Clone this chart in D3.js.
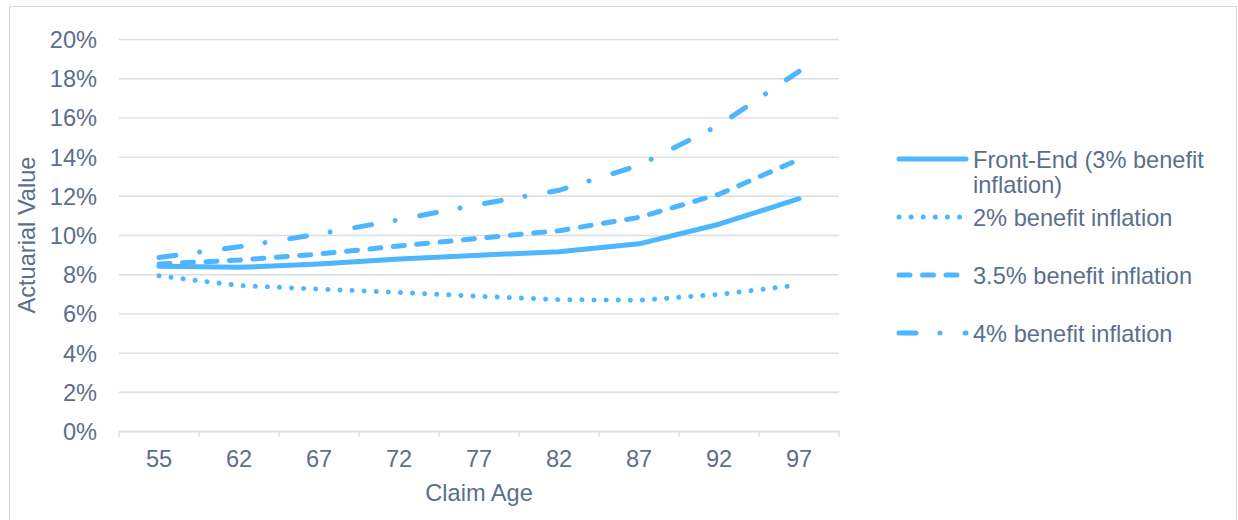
<!DOCTYPE html>
<html>
<head>
<meta charset="utf-8">
<script src="https://cdn.jsdelivr.net/npm/d3@7"></script>
<style>
  html, body { margin: 0; padding: 0; background: #ffffff; }
  svg { display: block; }
  text { font-family: "Liberation Sans", Arial, sans-serif; fill: #5B6F8C; }
</style>
</head>
<body>
<svg id="chart" width="1238" height="520"></svg>
<script>
// Claim ages on the category axis
const ages = ["55", "62", "67", "72", "77", "82", "87", "92", "97"];

// Actuarial value (%) by claim age for each benefit-inflation assumption
const frontEnd = [8.4, 8.35, 8.52, 8.77, 8.97, 9.15, 9.55, 10.55, 11.85];
const inflation2 = [7.92, 7.42, 7.24, 7.07, 6.87, 6.7, 6.67, 6.97, 7.45];
const inflation35 = [8.52, 8.72, 9.03, 9.44, 9.83, 10.22, 10.9, 12.08, 13.85];
const inflation4 = [8.85, 9.4, 10.05, 10.78, 11.56, 12.28, 13.55, 15.6, 18.35];

// Axis ticks (%)
const yTicks = [0, 2, 4, 6, 8, 10, 12, 14, 16, 18, 20];

const seriesNames = [
  ["Front-End (3% benefit", "inflation)"],
  ["2% benefit inflation"],
  ["3.5% benefit inflation"],
  ["4% benefit inflation"]
];

const series = [
  { name: seriesNames[0], values: frontEnd, dash: null },
  { name: seriesNames[1], values: inflation2, dash: "0.01 12.1" },
  { name: seriesNames[2], values: inflation35, dash: "11 12.5" },
  { name: seriesNames[3], values: inflation4, dash: "17 24 0.01 25" }
];

const lineColor = "#4DB6FF";
const gridColor = "#D9DDE6";
const fontSize = 23.6;

const svg = d3.select("#chart");

// outer chart frame
svg.append("rect")
  .attr("x", 9.5).attr("y", 6.5)
  .attr("width", 1227).attr("height", 530)
  .attr("fill", "none")
  .attr("stroke", "#D9D9D9")
  .attr("stroke-width", 1);

const plot = { left: 119, right: 839, top: 39, bottom: 431 };

const x = d3.scaleBand().domain(ages).range([plot.left, plot.right]).padding(0);
const y = d3.scaleLinear().domain([0, 20]).range([plot.bottom, plot.top]);
const cx = d => x(d) + x.bandwidth() / 2;

// horizontal gridlines with percent labels
const yAxis = svg.append("g")
  .attr("transform", `translate(${plot.left},0)`)
  .call(d3.axisLeft(y)
    .tickValues(yTicks)
    .tickSize(-(plot.right - plot.left))
    .tickPadding(22)
    .tickFormat(d => d + "%"));
yAxis.select(".domain").remove();
yAxis.selectAll(".tick line").attr("stroke", gridColor).attr("stroke-width", 1.4);
yAxis.selectAll(".tick text")
  .attr("font-size", fontSize)
  .attr("fill", "#5B6F8C")
  .attr("dy", "0.36em");

// category axis: labels centred in bands, tick marks on band boundaries
const xAxis = svg.append("g")
  .attr("transform", `translate(0,${plot.bottom})`)
  .call(d3.axisBottom(x).tickSize(0).tickPadding(19));
xAxis.select(".domain").attr("stroke", gridColor).attr("stroke-width", 1.4);
xAxis.selectAll(".tick text").attr("font-size", fontSize).attr("fill", "#5B6F8C").attr("dy", "0.71em");

const boundaries = ages.map(a => x(a)).concat([plot.right]);
xAxis.selectAll(".bound")
  .data(boundaries)
  .join("line")
  .attr("class", "bound")
  .attr("x1", d => d).attr("x2", d => d)
  .attr("y1", 0).attr("y2", 6)
  .attr("stroke", gridColor)
  .attr("stroke-width", 1.4);

// axis titles
svg.append("text")
  .attr("x", (plot.left + plot.right) / 2)
  .attr("y", 501)
  .attr("text-anchor", "middle")
  .attr("font-size", fontSize)
  .text("Claim Age");

svg.append("text")
  .attr("transform", `translate(35,${(plot.top + plot.bottom) / 2}) rotate(-90)`)
  .attr("text-anchor", "middle")
  .attr("font-size", fontSize)
  .text("Actuarial Value");

// series lines
const line = d3.line()
  .x((d, i) => cx(ages[i]))
  .y(d => y(d));

svg.append("g").selectAll("path")
  .data(series)
  .join("path")
  .attr("d", s => line(s.values))
  .attr("fill", "none")
  .attr("stroke", lineColor)
  .attr("stroke-width", 5)
  .attr("stroke-linecap", "round")
  .attr("stroke-linejoin", "round")
  .attr("stroke-dasharray", s => s.dash);

// legend
const legendY = [159, 217, 275, 333];
const legend = svg.append("g");
const items = legend.selectAll("g")
  .data(series)
  .join("g")
  .attr("transform", (s, i) => `translate(0,${legendY[i]})`);

items.append("line")
  .attr("x1", 899).attr("x2", 966)
  .attr("y1", 0).attr("y2", 0)
  .attr("stroke", lineColor)
  .attr("stroke-width", 5)
  .attr("stroke-linecap", "round")
  .attr("stroke-dasharray", s => s.dash);

items.append("text")
  .attr("x", 973)
  .attr("y", 0)
  .attr("font-size", fontSize)
  .selectAll("tspan")
  .data(s => s.name)
  .join("tspan")
  .attr("x", 973)
  .attr("dy", (d, i) => i === 0 ? "0.36em" : "26px")
  .text(d => d);
</script>
</body>
</html>
